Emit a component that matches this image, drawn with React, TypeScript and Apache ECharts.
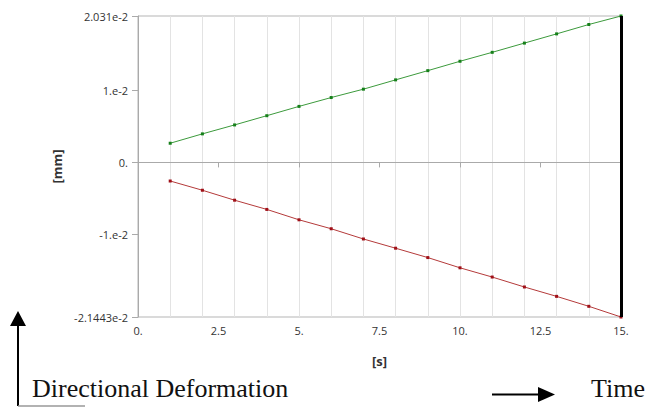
import React, { useEffect, useRef } from "react";
import * as echarts from "echarts";

const times = [1, 2, 3, 4, 5, 6, 7, 8, 9, 10, 11, 12, 13, 14, 15];
const upperValues = [
  0.00266, 0.00396, 0.0052, 0.00648, 0.00777, 0.009, 0.01016, 0.01145,
  0.01273, 0.01403, 0.01527, 0.01655, 0.01783, 0.01913, 0.02031,
];
const lowerValues = [
  -0.00258, -0.00386, -0.00524, -0.00652, -0.00796, -0.0092, -0.01062,
  -0.0119, -0.0132, -0.01462, -0.0159, -0.01728, -0.01858, -0.01996, -0.021443,
];
const yTickValues = [-0.021443, -0.01, 0, 0.01, 0.02031];
const yTickLabels = ["-2.1443e-2", "-1.e-2", "0.", "1.e-2", "2.031e-2"];
const xTickValues = [0, 2.5, 5, 7.5, 10, 12.5, 15];
const xTickLabels = ["0.", "2.5", "5.", "7.5", "10.", "12.5", "15."];
const cursorTime = 15;

export default function App() {
  const ref = useRef<HTMLDivElement>(null);
  useEffect(() => {
    if (!ref.current) return;
    const chart = echarts.init(ref.current, null, { renderer: "svg" });
    const uiFont = "Open Sans";
    const serif = "Liberation Serif";
    const axisLineColor = "#aaaaaa";
    chart.setOption({
      animation: false,
      backgroundColor: "#ffffff",
      title: [
        {
          text: "Directional Deformation",
          left: 32,
          top: 375,
          padding: [0, 0, 0, 0],
          textStyle: { fontFamily: serif, fontSize: 26, fontWeight: "normal", color: "#111" },
        },
        {
          text: "Time",
          left: 591,
          top: 375,
          padding: [0, 0, 0, 0],
          textStyle: { fontFamily: serif, fontSize: 26, fontWeight: "normal", color: "#111" },
        },
      ],
      grid: {
        left: 138,
        right: 26,
        top: 16,
        bottom: 90,
        show: true,
        borderColor: "#b5b5b5",
        borderWidth: 1,
        backgroundColor: "transparent",
      },
      xAxis: [
        {
          type: "value",
          min: 0,
          max: 15,
          interval: 2.5,
          name: "[s]",
          nameLocation: "middle",
          nameGap: 37,
          nameTextStyle: { fontFamily: uiFont, fontSize: 13, fontWeight: "bold", color: "#333" },
          axisLine: { show: true, lineStyle: { color: axisLineColor } },
          axisTick: { show: true, length: 5, lineStyle: { color: axisLineColor } },
          axisLabel: {
            fontFamily: uiFont,
            fontSize: 11,
            color: "#333",
            margin: 8,
            formatter: (v: number) => {
              const i = xTickValues.findIndex((t) => Math.abs(t - v) < 1e-9);
              return i >= 0 ? xTickLabels[i] : "";
            },
          },
          splitLine: { show: false },
        },
        {
          type: "value",
          min: 0,
          max: 15,
          interval: 1,
          position: "bottom",
          axisLine: { show: false },
          axisTick: { show: false },
          axisLabel: { show: false },
          splitLine: { show: true, lineStyle: { color: "#e3e3e3", width: 1 } },
        },
      ],
      yAxis: {
        type: "value",
        min: yTickValues[0],
        max: yTickValues[yTickValues.length - 1],
        name: "[mm]",
        nameLocation: "middle",
        nameGap: 62,
        nameRotate: 90,
        nameTextStyle: { fontFamily: uiFont, fontSize: 13, fontWeight: "bold", color: "#333" },
        axisLine: { show: true, lineStyle: { color: axisLineColor } },
        axisTick: {
          show: true,
          length: 6,
          customValues: yTickValues,
          lineStyle: { color: axisLineColor },
        },
        axisLabel: {
          fontFamily: uiFont,
          fontSize: 11,
          color: "#333",
          margin: 10,
          customValues: yTickValues,
          formatter: (v: number) => {
            const i = yTickValues.findIndex((t) => Math.abs(t - v) < 1e-9);
            return i >= 0 ? yTickLabels[i] : "";
          },
        },
        splitLine: { show: false },
      },
      series: [
        {
          type: "line",
          xAxisIndex: 0,
          data: times.map((t, i) => [t, upperValues[i]]),
          symbol: "rect",
          symbolSize: 3,
          itemStyle: { color: "#16801a" },
          lineStyle: { color: "#3c9a3c", width: 1 },
          markLine: {
            silent: true,
            symbol: ["none", "none"],
            label: { show: false },
            lineStyle: { color: "#000000", width: 3, type: "solid" },
            data: [{ xAxis: cursorTime }],
          },
        },
        {
          type: "line",
          xAxisIndex: 0,
          data: times.map((t, i) => [t, lowerValues[i]]),
          symbol: "rect",
          symbolSize: 3,
          itemStyle: { color: "#a01018" },
          lineStyle: { color: "#b43a3a", width: 1 },
        },
      ],
      graphic: [
        { type: "line", shape: { x1: 18, y1: 322, x2: 18, y2: 406 }, style: { stroke: "#000", lineWidth: 2 } },
        { type: "line", shape: { x1: 18, y1: 406, x2: 85, y2: 406 }, style: { stroke: "#999", lineWidth: 1.5 } },
        { type: "polygon", shape: { points: [[10, 326], [18, 311], [26, 326]] }, style: { fill: "#000" } },
        { type: "line", shape: { x1: 492, y1: 394.5, x2: 542, y2: 394.5 }, style: { stroke: "#000", lineWidth: 2 } },
        { type: "polygon", shape: { points: [[538, 387], [555, 394.5], [538, 402]] }, style: { fill: "#000" } },
      ],
    });
    return () => chart.dispose();
  }, []);
  return (
    <div
      ref={ref}
      style={{ position: "fixed", left: 0, top: 0, width: 647, height: 407, background: "#fff" }}
    />
  );
}
